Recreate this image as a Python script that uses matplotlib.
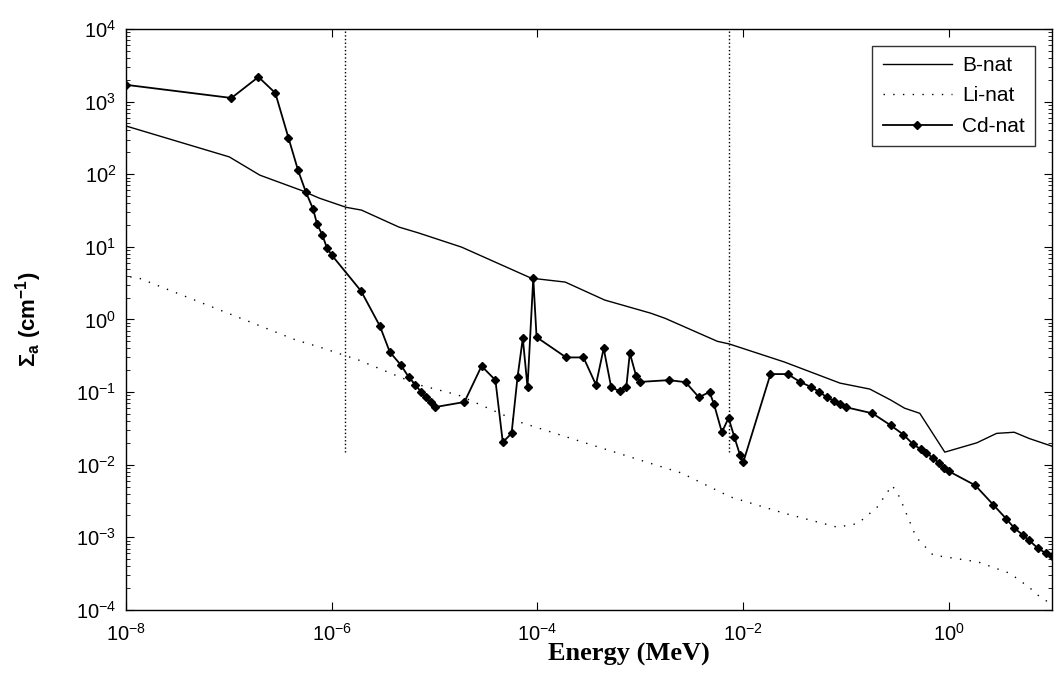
import matplotlib
matplotlib.use("Agg")
import matplotlib.pyplot as plt
import numpy as np
from matplotlib.ticker import FixedLocator, NullLocator, NullFormatter

plt.rcParams["font.family"] = ["Liberation Sans", "DejaVu Sans"]
plt.rcParams["mathtext.fontset"] = "custom"
plt.rcParams["mathtext.rm"] = "Liberation Sans"
plt.rcParams["mathtext.it"] = "Liberation Sans:italic"
plt.rcParams["mathtext.bf"] = "Liberation Sans:bold"

# B-nat
b_energy = [1e-8, 1.01e-7, 2.0e-7, 5.2e-7, 7.5e-7, 1.38e-6, 1.95e-6, 4.5e-6, 7e-6,
            1.83e-5, 8.7e-5, 1.86e-4, 4.5e-4, 1.26e-3, 1.73e-3, 5.6e-3, 7.3e-3,
            2.5e-2, 8.7e-2, 0.17, 0.27, 0.37, 0.52, 0.91, 1.86, 2.9, 4.3, 6.0, 10.0]
b_sigma = [461, 173, 97, 59, 47, 35, 32, 18.7, 15.5,
           9.9, 3.7, 3.27, 1.85, 1.22, 1.04, 0.50, 0.46,
           0.26, 0.133, 0.11, 0.078, 0.060, 0.051, 0.0149, 0.020, 0.027, 0.028, 0.023, 0.018]

# Li-nat
li_energy = [1.1e-8, 1.28e-8, 4.5e-7, 7.5e-7, 1.84e-6, 7e-6, 1.7e-5, 6.6e-5, 2.9e-4,
             2.5e-3, 7.5e-3, 2.5e-2, 8.2e-2, 0.13, 0.2, 0.28, 0.33, 0.48, 0.7,
             1.9, 3.9, 6.0, 7.7, 10.0]
li_sigma = [3.85, 3.8, 0.52, 0.42, 0.275, 0.126, 0.091, 0.039, 0.020,
            0.0077, 0.0036, 0.00215, 0.00138, 0.00155, 0.0026, 0.0052, 0.0036, 0.001, 5.7e-4,
            4.6e-4, 3.2e-4, 2.06e-4, 1.5e-4, 1.2e-4]

# Cd-nat
cd_energy = [1e-8, 1.06e-7, 1.94e-7, 2.83e-7, 3.8e-7, 4.7e-7, 5.6e-7, 6.6e-7, 7.2e-7,
             8.1e-7, 9.0e-7, 1.0e-6, 1.93e-6, 2.94e-6, 3.67e-6, 4.7e-6, 5.6e-6, 6.5e-6,
             7.4e-6, 8.2e-6, 9.2e-6, 1.0e-5, 1.95e-5, 2.86e-5, 3.9e-5, 4.6e-5, 5.6e-5,
             6.4e-5, 7.2e-5, 8.0e-5, 9.1e-5, 9.8e-5, 1.9e-4, 2.8e-4, 3.7e-4, 4.4e-4,
             5.2e-4, 6.3e-4, 7.3e-4, 7.9e-4, 9.1e-4, 9.9e-4, 1.89e-3, 2.75e-3, 3.7e-3,
             4.7e-3, 5.2e-3, 6.2e-3, 7.2e-3, 8.2e-3, 9.3e-3, 1.0e-2, 1.84e-2, 2.7e-2,
             3.6e-2, 4.6e-2, 5.5e-2, 6.5e-2, 7.6e-2, 8.7e-2, 9.9e-2, 0.18, 0.27, 0.36,
             0.45, 0.53, 0.6, 0.7, 0.8, 0.89, 1.0, 1.8, 2.7, 3.6, 4.3, 5.2, 6.0, 7.3,
             8.8, 10.0]
cd_sigma = [1700, 1120, 2180, 1310, 316, 114, 57, 33, 20.6,
            14.6, 9.6, 7.7, 2.46, 0.81, 0.356, 0.236, 0.161, 0.126,
            0.1, 0.085, 0.073, 0.062, 0.073, 0.228, 0.146, 0.0204, 0.027,
            0.161, 0.55, 0.117, 3.7, 0.57, 0.30, 0.30, 0.126, 0.40,
            0.117, 0.103, 0.117, 0.344, 0.166, 0.138, 0.146, 0.137, 0.085,
            0.1, 0.068, 0.028, 0.044, 0.024, 0.0136, 0.0108, 0.177, 0.177,
            0.137, 0.117, 0.10, 0.085, 0.076, 0.068, 0.062, 0.051, 0.035, 0.026,
            0.019, 0.0164, 0.0147, 0.0123, 0.0106, 0.009, 0.0081, 0.0052, 0.0028,
            0.0018, 0.00135, 0.00108, 9.1e-4, 7.1e-4, 6.0e-4, 5.5e-4]

# dotted vertical markers
vline_energy = [1.34e-6, 7.3e-3]
vline_bottom = 0.015

x_ticks = [1e-8, 1e-6, 1e-4, 1e-2, 1e0]
y_exponents = np.arange(-4, 5)

fig = plt.figure(figsize=(10.54, 6.82), dpi=100)
ax = fig.add_axes([0.1195, 0.1056, 0.8785, 0.852])

ax.plot(b_energy, b_sigma, "k-", lw=1.0, label="B-nat")
ax.plot(li_energy, li_sigma, color="k", linestyle=(0, (1, 6)), lw=1.0, label="Li-nat")
ax.plot(cd_energy, cd_sigma, "k-", lw=1.3, marker="D", ms=4, label="Cd-nat")

for e in vline_energy:
    ax.plot([e, e], [vline_bottom, 1e4], "k:", lw=1.0)

ax.set_xscale("log")
ax.set_yscale("log")
ax.set_xlim(1e-8, 10)
ax.set_ylim(1e-4, 1e4)

ax.set_xticks(x_ticks)
ax.xaxis.set_minor_locator(NullLocator())
ax.set_yticks([10.0 ** k for k in y_exponents])
minor_y = [m * 10.0 ** k for k in y_exponents[:-1] for m in range(2, 10)]
ax.yaxis.set_minor_locator(FixedLocator(minor_y))
ax.yaxis.set_minor_formatter(NullFormatter())

ax.tick_params(which="both", direction="in", top=True, right=True, labelsize=14.5)
ax.tick_params(which="major", length=6)
ax.tick_params(which="minor", length=3)
ax.tick_params(axis="x", pad=9)
ax.tick_params(axis="y", pad=7)

ax.set_xlabel("Energy (MeV)", fontsize=19, fontweight="bold",
              family=["Liberation Serif", "DejaVu Serif"])
ax.xaxis.set_label_coords(0.543, -0.056)
ax.set_ylabel(r"$\mathbf{\Sigma_a}$ (cm$^{\mathbf{-1}}$)", fontsize=16, fontweight="bold")
ax.yaxis.set_label_coords(-0.089, 0.5)

leg = ax.legend(loc="upper right", fontsize=15, frameon=True, fancybox=False,
                edgecolor="black", handlelength=3.3, handletextpad=0.5,
                labelspacing=0.55, borderaxespad=0.8, borderpad=0.5)
leg.get_frame().set_linewidth(1.0)

for s in ax.spines.values():
    s.set_linewidth(1.0)

fig.savefig("out.png", dpi=100)
